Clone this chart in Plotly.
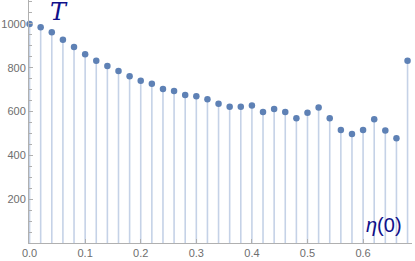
import plotly.graph_objects as go

eta0 = [round(0.02 * i, 2) for i in range(35)]
T = [1000, 985, 962, 928, 895, 861, 832, 808, 785, 761, 741, 727, 703, 694, 676, 670,
     656, 636, 622, 622, 627, 598, 612, 598, 569, 594, 618, 569, 516, 498, 516, 565,
     513, 478, 832]
yticks = [200, 400, 600, 800, 1000]
xticks = [0.0, 0.1, 0.2, 0.3, 0.4, 0.5, 0.6]

stem_x, stem_y = [], []
for x, y in zip(eta0, T):
    stem_x += [x, x, None]
    stem_y += [0, y, None]

fig = go.Figure()
fig.add_trace(go.Scatter(x=stem_x, y=stem_y, mode="lines", cliponaxis=False,
                         line=dict(color="#c5d2e7", width=1.6), hoverinfo="skip"))
fig.add_trace(go.Scatter(x=eta0, y=T, mode="markers", cliponaxis=False,
                         marker=dict(color="#5e81b5", size=6.5)))

axis_common = dict(showgrid=False, zeroline=False, showline=True, linecolor="#b0b0b0",
                   linewidth=1, automargin=False,
                   tickfont=dict(family="Liberation Sans, Arial", size=11, color="#6e6e6e"),
                   ticks="inside", tickcolor="#b0b0b0")
fig.update_xaxes(range=[-0.001, 0.688], tickvals=xticks,
                 ticktext=[f"{v:.1f}" for v in xticks], ticklen=4, **axis_common)
fig.update_yaxes(range=[0, 1109], tickvals=yticks, ticklen=4,
                 minor=dict(dtick=50, ticklen=2.5, ticks="inside", tickcolor="#b0b0b0"),
                 **axis_common)

pw, ph = 415 - 29 - 3, 261 - 18
fig.update_layout(width=415, height=261, margin=dict(l=29, r=3, t=0, b=18),
                  plot_bgcolor="white", paper_bgcolor="white", showlegend=False,
                  annotations=[
                      dict(text="<i>T</i>", x=(59 - 29) / pw, y=(243 - 12) / ph,
                           xanchor="center", yanchor="middle", borderpad=0,
                           xref="paper", yref="paper", showarrow=False,
                           font=dict(family="DejaVu Serif", size=24, color="#10108a")),
                      dict(text="<i>η</i>(0)", x=(384 - 29) / pw, y=(243 - 225) / ph,
                           xanchor="center", yanchor="middle", borderpad=0,
                           xref="paper", yref="paper", showarrow=False,
                           font=dict(family="Liberation Sans, Arial", size=20, color="#10108a")),
                  ])

fig.write_html("out.html", config={"displayModeBar": False},
               post_script="document.body.style.margin='0';document.body.style.overflow='hidden';")
